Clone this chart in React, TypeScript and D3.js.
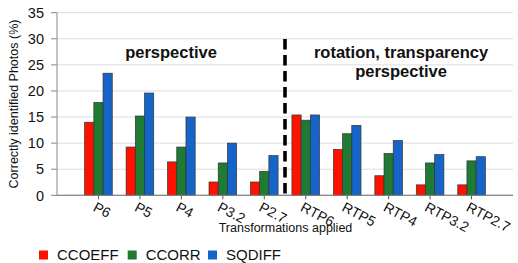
import React from "react";
import * as d3 from "d3";

const categories = ["P6", "P5", "P4", "P3.2", "P2.7", "RTP6", "RTP5", "RTP4", "RTP3.2", "RTP2.7"];
const seriesNames = ["CCOEFF", "CCORR", "SQDIFF"];
const ccoeff = [14.0, 9.25, 6.4, 2.55, 2.55, 15.4, 8.8, 3.75, 2.0, 2.0];
const ccorr = [17.8, 15.2, 9.25, 6.2, 4.6, 14.4, 11.8, 8.0, 6.2, 6.6];
const sqdiff = [23.4, 19.6, 15.0, 10.0, 7.6, 15.4, 13.4, 10.5, 7.8, 7.4];
const yTicks = [0, 5, 10, 15, 20, 25, 30, 35];
const colors = ["#ff1100", "#1f7a34", "#1565c8"];

export default function App() {
  const W = 518, H = 263;
  const left = 57, right = 513, top = 12.7, bottom = 195.3;
  const y = d3.scaleLinear().domain([0, 35]).range([bottom, top]);
  // band with an empty slot before and after the categories
  const x = d3.scaleLinear().domain([-1, categories.length]).range([left, right]);
  const bw = 9.2;
  const series = [ccoeff, ccorr, sqdiff];
  const font = "Liberation Sans, Arial, Helvetica, sans-serif";
  const dashX = (x(4) + x(5)) / 2;

  return (
    <svg width={W} height={H} style={{ position: "absolute", left: 0, top: 0 }} fontFamily={font}>
      <rect width={W} height={H} fill="#fff" />
      {yTicks.map((t) => (
        <g key={t}>
          <line x1={left} x2={right} y1={y(t)} y2={y(t)} stroke={t === 0 ? "#888" : "#ddd"} strokeWidth={1} />
          <line x1={left - 6} x2={left} y1={y(t)} y2={y(t)} stroke="#888" />
          <text x={left - 13} y={y(t)} dy="0.36em" textAnchor="end" fontSize={14.5} fill="#111">{t}</text>
        </g>
      ))}
      <line x1={left} x2={left} y1={top} y2={bottom} stroke="#888" />
      {categories.map((c, i) => (
        <g key={c}>
          {series.map((s, j) => (
            <rect key={j} x={x(i) - 1.5 * bw + j * bw} y={y(s[i])} width={bw} height={bottom - y(s[i])}
              fill={colors[j]} stroke="#333" strokeWidth={0.7} />
          ))}
          <line x1={x(i)} x2={x(i)} y1={bottom} y2={bottom + 4} stroke="#555" />
          <text transform={`translate(${x(i) - 1},${bottom + 5}) rotate(28)`} dy="0.8em" fontSize={14} fill="#111">{c}</text>
        </g>
      ))}
      <line x1={left} x2={right} y1={bottom} y2={bottom} stroke="#888" />
      <line x1={dashX} x2={dashX} y1={39} y2={bottom} stroke="#000" strokeWidth={3.6} strokeDasharray="10.5,5.5" />
      <text x={171} y={58} textAnchor="middle" fontSize={16.5} fontWeight="bold" fill="#111">perspective</text>
      <text x={401} y={58} textAnchor="middle" fontSize={16.5} fontWeight="bold" fill="#111">rotation, transparency</text>
      <text x={401} y={77} textAnchor="middle" fontSize={16.5} fontWeight="bold" fill="#111">perspective</text>
      <text transform={`translate(18,${(top + bottom) / 2}) rotate(-90)`} textAnchor="middle" fontSize={12.5} fill="#111">Correctly identified Photos (%)</text>
      <text x={285.5} y={232} textAnchor="middle" fontSize={12.5} fill="#111">Transformations applied</text>
      {seriesNames.map((n, j) => {
        const xs = [39, 127.7, 208][j];
        return (
          <g key={n}>
            <rect x={xs} y={250.5} width={9} height={9} fill={colors[j]} />
            <text x={xs + 18} y={260} fontSize={15} fill="#111">{n}</text>
          </g>
        );
      })}
    </svg>
  );
}
